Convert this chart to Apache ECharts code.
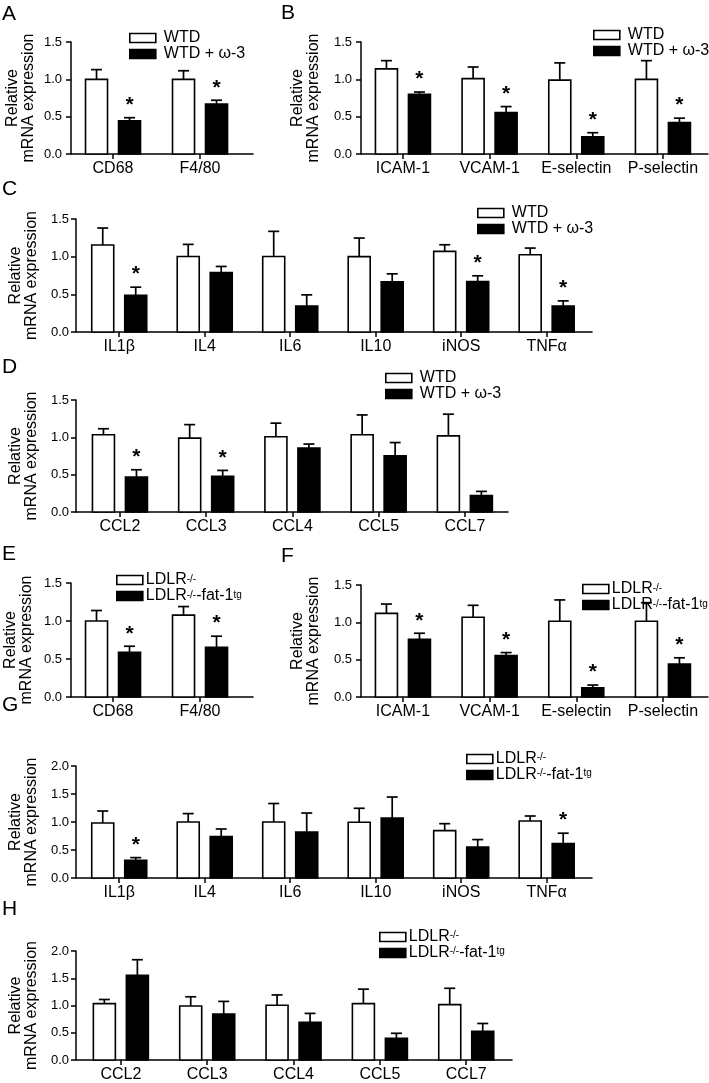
<!DOCTYPE html>
<html><head><meta charset="utf-8">
<script src="https://cdn.jsdelivr.net/npm/echarts@6/dist/echarts.min.js"></script>
<style>html,body{margin:0;padding:0;background:#fff}#c{width:709px;height:1083px}</style>
</head><body><div id="c"></div>
<script>
const FONT = '"Liberation Sans", Arial, Helvetica, sans-serif';

// ---------- DATA ----------
const WTD_NAMES = ['WTD', 'WTD + ω-3'];
const LDLR_NAMES = ['LDLR-/-', 'LDLR-/--fat-1tg'];

// Panel A
const catsA = ['CD68', 'F4/80'];
const ctlMeanA = [1.00, 1.00];
const ctlSemA  = [0.13, 0.115];
const trtMeanA = [0.446, 0.67];
const trtSemA  = [0.04, 0.05];
const trtStarA = [1, 1];
// Panel B
const catsB = ['ICAM-1', 'VCAM-1', 'E-selectin', 'P-selectin'];
const ctlMeanB = [1.14, 1.01, 0.99, 1.00];
const ctlSemB  = [0.11, 0.155, 0.23, 0.25];
const trtMeanB = [0.80, 0.555, 0.23, 0.42];
const trtSemB  = [0.03, 0.08, 0.055, 0.06];
const trtStarB = [1, 1, 1, 1];
// Panel C
const catsC = ['IL1β', 'IL4', 'IL6', 'IL10', 'iNOS', 'TNFα'];
const ctlMeanC = [1.154, 1.003, 1.003, 1.00, 1.07, 1.025];
const ctlSemC  = [0.226, 0.16, 0.333, 0.247, 0.088, 0.089];
const trtMeanC = [0.488, 0.79, 0.346, 0.666, 0.67, 0.346];
const trtSemC  = [0.107, 0.08, 0.147, 0.106, 0.076, 0.067];
const trtStarC = [1, 0, 0, 0, 1, 1];
// Panel D
const catsD = ['CCL2', 'CCL3', 'CCL4', 'CCL5', 'CCL7'];
const ctlMeanD = [1.035, 0.99, 1.008, 1.035, 1.02];
const ctlSemD  = [0.08, 0.18, 0.182, 0.265, 0.29];
const trtMeanD = [0.468, 0.477, 0.857, 0.754, 0.22];
const trtSemD  = [0.098, 0.08, 0.053, 0.176, 0.056];
const trtStarD = [1, 1, 0, 0, 0];
// Panel E
const catsE = ['CD68', 'F4/80'];
const ctlMeanE = [1.00, 1.077];
const ctlSemE  = [0.138, 0.113];
const trtMeanE = [0.588, 0.654];
const trtSemE  = [0.08, 0.146];
const trtStarE = [1, 1];
// Panel F
const catsF = ['ICAM-1', 'VCAM-1', 'E-selectin', 'P-selectin'];
const ctlMeanF = [1.12, 1.068, 1.015, 1.015];
const ctlSemF  = [0.125, 0.16, 0.285, 0.248];
const trtMeanF = [0.774, 0.556, 0.124, 0.44];
const trtSemF  = [0.08, 0.039, 0.036, 0.085];
const trtStarF = [1, 1, 1, 1];
// Panel G
const catsG = ['IL1β', 'IL4', 'IL6', 'IL10', 'iNOS', 'TNFα'];
const ctlMeanG = [0.982, 1.00, 1.00, 0.995, 0.846, 1.018];
const ctlSemG  = [0.214, 0.15, 0.33, 0.25, 0.124, 0.089];
const trtMeanG = [0.316, 0.739, 0.82, 1.07, 0.554, 0.614];
const trtSemG  = [0.048, 0.136, 0.34, 0.376, 0.132, 0.186];
const trtStarG = [1, 0, 0, 0, 0, 1];
// Panel H
const catsH = ['CCL2', 'CCL3', 'CCL4', 'CCL5', 'CCL7'];
const ctlMeanH = [1.035, 0.99, 1.004, 1.034, 1.016];
const ctlSemH  = [0.075, 0.17, 0.19, 0.266, 0.30];
const trtMeanH = [1.553, 0.843, 0.69, 0.40, 0.526];
const trtSemH  = [0.287, 0.232, 0.165, 0.09, 0.144];
const trtStarH = [0, 0, 0, 0, 0];

// ---------- LAYOUT ----------
const panels = [
  {label:'A', cats:catsA, m1:ctlMeanA, e1:ctlSemA, m2:trtMeanA, e2:trtSemA, st:trtStarA, names:WTD_NAMES, yMax:1.5,
   grid:{left:71, top:42, width:182, height:112}, xMin:-0.483, xMax:1.609, nameGap:34, labMargin:9,
   lg:{left:129, top:30, lh:12}, tl:{left:2, top:4}},
  {label:'B', cats:catsB, m1:ctlMeanB, e1:ctlSemB, m2:trtMeanB, e2:trtSemB, st:trtStarB, names:WTD_NAMES, yMax:1.5,
   grid:{left:361, top:42, width:347, height:112}, xMin:-0.484, xMax:3.52, nameGap:39, labMargin:9,
   lg:{left:593, top:27, lh:14}, tl:{left:281, top:3}},
  {label:'C', cats:catsC, m1:ctlMeanC, e1:ctlSemC, m2:trtMeanC, e2:trtSemC, st:trtStarC, names:WTD_NAMES, yMax:1.5,
   grid:{left:67, top:219, width:525, height:113}, xMin:-0.506, xMax:5.53, nameGap:30, labMargin:7,
   lg:{left:477, top:205, lh:14}, tl:{left:2, top:179}},
  {label:'D', cats:catsD, m1:ctlMeanD, e1:ctlSemD, m2:trtMeanD, e2:trtSemD, st:trtStarD, names:WTD_NAMES, yMax:1.5,
   grid:{left:67, top:400, width:441, height:112}, xMin:-0.51, xMax:4.5, nameGap:31, labMargin:7,
   lg:{left:385, top:370, lh:14}, tl:{left:2, top:357}},
  {label:'E', cats:catsE, m1:ctlMeanE, e1:ctlSemE, m2:trtMeanE, e2:trtSemE, st:trtStarE, names:LDLR_NAMES, yMax:1.5,
   grid:{left:71, top:583, width:182, height:114}, xMin:-0.483, xMax:1.609, nameGap:36, labMargin:9,
   lg:{left:116, top:572, lh:12.5}, tl:{left:2, top:544}},
  {label:'F', cats:catsF, m1:ctlMeanF, e1:ctlSemF, m2:trtMeanF, e2:trtSemF, st:trtStarF, names:LDLR_NAMES, yMax:1.5,
   grid:{left:361, top:585, width:347, height:112}, xMin:-0.484, xMax:3.52, nameGap:39, labMargin:9,
   lg:{left:582, top:581, lh:12}, tl:{left:281, top:546}},
  {label:'G', cats:catsG, m1:ctlMeanG, e1:ctlSemG, m2:trtMeanG, e2:trtSemG, st:trtStarG, names:LDLR_NAMES, yMax:2.0,
   grid:{left:67, top:766, width:525, height:112}, xMin:-0.506, xMax:5.53, nameGap:30, labMargin:7,
   lg:{left:466, top:751, lh:14}, tl:{left:2, top:695}},
  {label:'H', cats:catsH, m1:ctlMeanH, e1:ctlSemH, m2:trtMeanH, e2:trtSemH, st:trtStarH, names:LDLR_NAMES, yMax:2.0,
   grid:{left:67, top:951, width:445, height:112}, xMin:-0.52, xMax:4.53, nameGap:30, labMargin:7,
   lg:{left:379, top:929, lh:14}, tl:{left:2, top:899}}
];

function makeRender(offset, fill, starArr) {
  return function (params, api) {
    const i = api.value(0), v = api.value(1), sem = api.value(2);
    const p0 = api.coord([i, 0]), pv = api.coord([i, v]), pe = api.coord([i, v + sem]);
    const cx = p0[0] + offset, bw = 22, cap = 5.5;
    const ch = [
      {type:'line', shape:{x1:cx, y1:pv[1], x2:cx, y2:pe[1]}, style:{stroke:'#000', lineWidth:1.7}},
      {type:'line', shape:{x1:cx-cap, y1:pe[1], x2:cx+cap, y2:pe[1]}, style:{stroke:'#000', lineWidth:1.7}},
      {type:'rect', shape:{x:cx-bw/2, y:pv[1], width:bw, height:p0[1]-pv[1]}, style:{fill:fill, stroke:'#000', lineWidth:1.6}}
    ];
    if (starArr && starArr[params.dataIndex]) {
      ch.push({type:'text', style:{text:'*', x:cx, y:pe[1]-2, align:'center', verticalAlign:'bottom',
        fontSize:21, fontWeight:'bold', fontFamily:FONT, fill:'#000'}});
    }
    return {type:'group', children: ch};
  };
}

const option = {animation:false, backgroundColor:'#fff', title:[], grid:[], xAxis:[], yAxis:[], legend:[], series:[]};

panels.forEach((p, k) => {
  const idx = p.cats.map((c, i) => i);
  option.title.push({text:p.label, left:p.tl.left, top:p.tl.top, padding:0,
    textStyle:{fontSize:21, fontWeight:'normal', color:'#000', fontFamily:FONT}});
  option.grid.push({left:p.grid.left, top:p.grid.top, width:p.grid.width, height:p.grid.height});
  option.xAxis.push({type:'value', gridIndex:k, min:p.xMin, max:p.xMax,
    axisLine:{onZero:false, lineStyle:{color:'#000', width:1.5}},
    axisTick:{show:true, customValues:idx, length:5, lineStyle:{color:'#000', width:1.5}},
    axisLabel:{customValues:idx, formatter:(v)=>p.cats[Math.round(v)], color:'#000', fontSize:16, fontFamily:FONT, margin:7},
    splitLine:{show:false}});
  option.yAxis.push({type:'value', gridIndex:k, min:0, max:p.yMax, interval:0.5,
    name:'Relative\nmRNA expression', nameLocation:'middle', nameGap:p.nameGap,
    nameTextStyle:{fontSize:16, lineHeight:16, color:'#000', fontFamily:FONT},
    axisLine:{show:true, onZero:false, lineStyle:{color:'#000', width:1.5}},
    axisTick:{show:true, length:5, lineStyle:{color:'#000', width:1.5}},
    axisLabel:{formatter:(v)=>v.toFixed(1), color:'#000', fontSize:13, fontFamily:FONT, margin:p.labMargin},
    splitLine:{show:false}});
  const isL = p.names === LDLR_NAMES;
  option.legend.push({orient:'vertical', left:p.lg.left, top:p.lg.top, padding:0, itemGap:0,
    itemWidth:26, itemHeight:9, icon:'rect', selectedMode:false,
    data:[{name:p.names[0], itemStyle:{color:'#fff', borderColor:'#000', borderWidth:1.6}},
          {name:p.names[1], itemStyle:{color:'#000', borderColor:'#000', borderWidth:1.6}}],
    formatter: isL ? (n)=> (n === LDLR_NAMES[0] ? 'LDLR{s|-/-}' : 'LDLR{s|-/-}-fat-1{s|tg}') : undefined,
    textStyle:{fontSize:16, lineHeight:p.lg.lh, color:'#000', fontFamily:FONT, padding: isL ? [0,0,0,-2] : [0,0,0,3],
      rich:{s:{fontSize:10, fontFamily:FONT, color:'#000', verticalAlign:'top', lineHeight:7}}}});
  option.series.push({type:'custom', name:p.names[0], xAxisIndex:k, yAxisIndex:k,
    itemStyle:{color:'#fff', borderColor:'#000'}, encode:{x:0, y:1},
    data:p.cats.map((c, i)=>[i, p.m1[i], p.e1[i]]), renderItem:makeRender(-16.5, '#fff', null)});
  option.series.push({type:'custom', name:p.names[1], xAxisIndex:k, yAxisIndex:k,
    itemStyle:{color:'#000', borderColor:'#000'}, encode:{x:0, y:1},
    data:p.cats.map((c, i)=>[i, p.m2[i], p.e2[i]]), renderItem:makeRender(16.5, '#000', p.st)});
});

const chart = echarts.init(document.getElementById('c'), null, {renderer:'canvas'});
chart.setOption(option);
</script></body></html>
